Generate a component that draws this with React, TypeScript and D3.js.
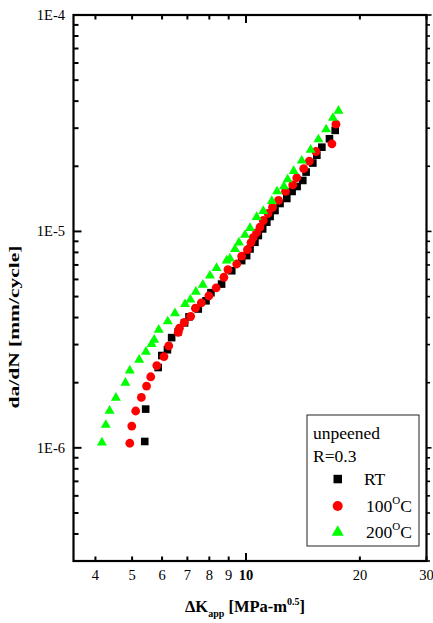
import React from 'react';
import * as d3 from 'd3';

// ---- data (ΔK in MPa·m^0.5, da/dN in mm/cycle) ----
const rtK = [5.40, 5.43, 5.86, 5.99, 6.20, 6.36, 6.62, 6.88, 7.07, 7.48, 7.84, 8.08, 8.62, 9.17, 9.74, 10.04, 10.25, 10.56, 10.78, 11.07, 11.35, 11.58, 11.93, 12.30, 12.82, 13.24, 13.65, 14.13, 14.42, 15.02, 15.39, 15.87, 16.62, 17.21];
const rtRate = [1.07e-6, 1.51e-6, 2.35e-6, 2.67e-6, 2.84e-6, 3.23e-6, 3.44e-6, 3.78e-6, 4.03e-6, 4.38e-6, 4.78e-6, 5.21e-6, 5.71e-6, 6.58e-6, 7.33e-6, 7.73e-6, 8.30e-6, 8.91e-6, 9.57e-6, 1.027e-5, 1.103e-5, 1.172e-5, 1.249e-5, 1.346e-5, 1.42e-5, 1.53e-5, 1.613e-5, 1.72e-5, 1.88e-5, 2.07e-5, 2.25e-5, 2.45e-5, 2.68e-5, 2.93e-5];

const c100K = [4.93, 4.99, 5.11, 5.29, 5.46, 5.60, 5.81, 6.07, 6.25, 6.62, 6.67, 6.87, 7.14, 7.35, 7.62, 7.98, 8.34, 8.74, 8.96, 9.45, 9.74, 10.09, 10.31, 10.45, 10.67, 10.89, 11.11, 11.44, 11.75, 12.19, 12.72, 13.29, 13.62, 14.21, 14.70, 15.31, 16.87, 17.29];
const c100Rate = [1.05e-6, 1.26e-6, 1.48e-6, 1.71e-6, 1.93e-6, 2.13e-6, 2.40e-6, 2.64e-6, 2.96e-6, 3.42e-6, 3.57e-6, 3.80e-6, 4.05e-6, 4.42e-6, 4.68e-6, 5.04e-6, 5.49e-6, 6.14e-6, 6.66e-6, 7.07e-6, 7.69e-6, 8.24e-6, 8.88e-6, 9.37e-6, 9.88e-6, 1.047e-5, 1.123e-5, 1.21e-5, 1.29e-5, 1.39e-5, 1.53e-5, 1.64e-5, 1.77e-5, 1.95e-5, 2.11e-5, 2.34e-5, 2.54e-5, 3.13e-5];

const c200K = [4.16, 4.26, 4.36, 4.53, 4.80, 4.93, 5.22, 5.44, 5.63, 5.72, 5.88, 6.21, 6.49, 6.90, 7.13, 7.37, 7.69, 8.03, 8.36, 8.89, 9.07, 9.35, 9.58, 9.94, 10.25, 10.67, 11.11, 11.70, 12.08, 12.60, 12.88, 13.37, 14.04, 14.82, 15.54, 16.29, 16.97, 17.56];
const c200Rate = [1.07e-6, 1.29e-6, 1.50e-6, 1.72e-6, 2.02e-6, 2.30e-6, 2.58e-6, 2.81e-6, 3.05e-6, 3.19e-6, 3.55e-6, 3.88e-6, 4.23e-6, 4.66e-6, 4.89e-6, 5.32e-6, 5.73e-6, 6.31e-6, 6.84e-6, 7.41e-6, 7.57e-6, 8.37e-6, 8.97e-6, 9.74e-6, 1.047e-5, 1.178e-5, 1.256e-5, 1.397e-5, 1.546e-5, 1.631e-5, 1.758e-5, 1.92e-5, 2.146e-5, 2.41e-5, 2.69e-5, 2.99e-5, 3.38e-5, 3.65e-5];

const xTickValues = [4, 5, 6, 7, 8, 9, 10, 20, 30];
const xTickLabels = ['4', '5', '6', '7', '8', '9', '10', '20', '30'];
const yMajorValues = [1e-6, 1e-5, 1e-4];
const yMajorLabels = ['1E-6', '1E-5', '1E-4'];

const legendTitle = ['unpeened', 'R=0.3'];
const seriesNames = ['RT', '100', '200'];

const FONT = '"Liberation Serif", "Times New Roman", serif';

export default function App() {
  const x = d3.scaleLog().domain([3.5, 30]).range([73.5, 426.5]);
  const y = d3.scaleLog().domain([3e-7, 1e-4]).range([561, 15]);
  const [x0, x1] = x.range();
  const [yb, yt] = y.range();

  const yMinor: number[] = [];
  for (let e = -7; e <= -5; e++) {
    for (let m = 2; m <= 9; m++) {
      const v = m * Math.pow(10, e);
      if (v >= 3e-7 && v <= 1e-4) yMinor.push(v);
    }
  }

  const tri = (s: number) => {
    const h = (s * Math.sqrt(3)) / 2;
    return `M0,${-h * 0.55}L${s / 2},${h * 0.45}L${-s / 2},${h * 0.45}Z`;
  };

  return (
    <svg width={433} height={623} style={{ position: 'absolute', left: 0, top: 0, background: '#fff' }} fontFamily={FONT}>
      <rect x={0} y={0} width={433} height={623} fill="#fff" />
      {/* data */}
      {rtK.map((k, i) => (
        <rect key={'rt' + i} x={x(k) - 3.8} y={y(rtRate[i]) - 3.8} width={7.6} height={7.6} fill="#000" />
      ))}
      {c100K.map((k, i) => (
        <circle key={'c1' + i} cx={x(k)} cy={y(c100Rate[i])} r={4.4} fill="#ff0000" />
      ))}
      {c200K.map((k, i) => (
        <path key={'c2' + i} transform={`translate(${x(k)},${y(c200Rate[i])})`} d={tri(10)} fill="#00ff00" />
      ))}

      {/* frame */}
      <rect x={x0} y={yt} width={x1 - x0} height={yb - yt} fill="none" stroke="#000" strokeWidth={2.2} />

      {/* x ticks bottom + top */}
      {xTickValues.map((v) => {
        const len = v === 10 ? 8 : 4.5;
        return (
          <g key={'xt' + v}>
            <line x1={x(v)} x2={x(v)} y1={yb} y2={yb - len} stroke="#000" strokeWidth={2} />
            <line x1={x(v)} x2={x(v)} y1={yt} y2={yt + len} stroke="#000" strokeWidth={2} />
          </g>
        );
      })}
      {xTickValues.map((v, i) => (
        <text key={'xl' + v} x={x(v)} y={580} textAnchor="middle" fontSize={14.5} fontWeight={v === 10 ? 'bold' : 'normal'}>
          {xTickLabels[i]}
        </text>
      ))}

      {/* y ticks */}
      {yMinor.map((v) => (
        <g key={'ym' + v}>
          <line x1={x0} x2={x0 + 5} y1={y(v)} y2={y(v)} stroke="#000" strokeWidth={2} />
          <line x1={x1} x2={x1 + 3.5} y1={y(v)} y2={y(v)} stroke="#000" strokeWidth={1.6} />
        </g>
      ))}
      {yMajorValues.map((v, i) => (
        <g key={'yM' + v}>
          <line x1={x0} x2={x0 + 8} y1={y(v)} y2={y(v)} stroke="#000" strokeWidth={2} />
          <line x1={x1} x2={x1 + 5} y1={y(v)} y2={y(v)} stroke="#000" strokeWidth={1.6} />
          <text x={65} y={y(v) + 5} textAnchor="end" fontSize={14.5}>
            {yMajorLabels[i]}
          </text>
        </g>
      ))}

      {/* axis titles */}
      <text x={185} y={612} fontSize={16.5} fontWeight="bold">
        ΔK
        <tspan fontSize={10} dy={5}>app</tspan>
        <tspan dy={-5}> [MPa-m</tspan>
        <tspan fontSize={10} dy={-7}>0.5</tspan>
        <tspan dy={7}>]</tspan>
      </text>
      <text transform="translate(19,327) rotate(-90)" textAnchor="middle" fontSize={15} fontWeight="bold" textLength={163} lengthAdjust="spacingAndGlyphs">
        da/dN [mm/cycle]
      </text>

      {/* legend */}
      <rect x={307} y={415} width={112} height={131} fill="#fff" stroke="#222" strokeWidth={1} />
      <text x={313} y={439} fontSize={17.5}>{legendTitle[0]}</text>
      <text x={313} y={462} fontSize={17.5}>{legendTitle[1]}</text>
      <rect x={333.5} y={474.8} width={8.5} height={8.5} fill="#000" />
      <text x={364} y={485} fontSize={17.5}>{seriesNames[0]}</text>
      <circle cx={337.7} cy={506} r={5} fill="#ff0000" />
      <text x={366} y={512} fontSize={17.5}>
        {seriesNames[1]}
        <tspan fontSize={11} dy={-8}>O</tspan>
        <tspan dy={8}>C</tspan>
      </text>
      <path transform="translate(337.7,531)" d={tri(12)} fill="#00ff00" />
      <text x={366} y={538} fontSize={17.5}>
        {seriesNames[2]}
        <tspan fontSize={11} dy={-8}>O</tspan>
        <tspan dy={8}>C</tspan>
      </text>
    </svg>
  );
}
